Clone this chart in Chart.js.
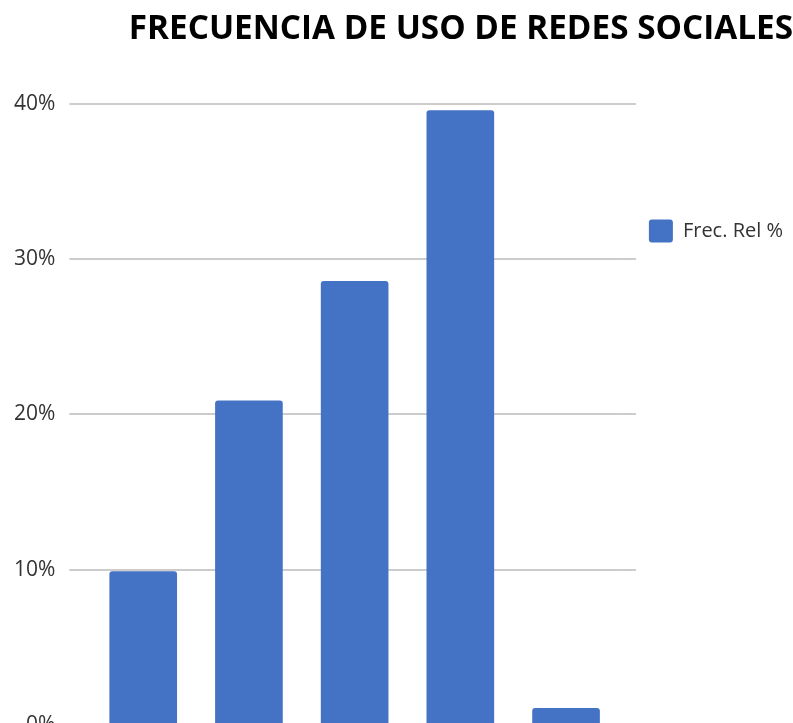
<!DOCTYPE html>
<html>
<head>
<meta charset="utf-8">
<script src="https://cdn.jsdelivr.net/npm/chart.js@4/dist/chart.umd.min.js"></script>
<style>
  html, body { margin: 0; padding: 0; background: #fff; overflow: hidden; }
  #wrap { width: 793px; height: 770px; }
</style>
</head>
<body>
<div id="wrap"><canvas id="bar-chart" width="793" height="770"></canvas></div>
<script>
var categorias = ['Nunca', 'Rara vez', 'A veces', 'Frecuentemente', 'No responde'];
var frecRel = [9.9, 20.9, 28.6, 39.6, 1.1];
var yTicks = [0, 10, 20, 30, 40];

var handleChart = function () {
    var ctx = document.getElementById('bar-chart').getContext('2d');
    window.myBar = new Chart(ctx, {
        type: 'bar',
        data: {
            labels: categorias,
            datasets: [{
                label: 'Frec. Rel %',
                data: frecRel,
                backgroundColor: '#4472C4',
                borderRadius: { topLeft: 3, topRight: 3 },
                borderSkipped: 'start',
                categoryPercentage: 0.8,
                barPercentage: 0.8
            }]
        },
        options: {
            responsive: false,
            animation: false,
            layout: { padding: { top: 0, right: 0, bottom: 7, left: 0 } },
            plugins: {
                title: {
                    display: true,
                    text: 'FRECUENCIA DE USO DE REDES SOCIALES',
                    align: 'end',
                    color: '#000',
                    font: { family: 'Open Sans', size: 33.3, weight: 'bold', lineHeight: 1.2 },
                    padding: { top: 10, bottom: 54 }
                },
                legend: {
                    position: 'right',
                    align: 'start',
                    maxWidth: 200,
                    title: { display: true, text: '', padding: { top: 192, bottom: 0 } },
                    labels: {
                        color: '#333',
                        font: { family: 'Open Sans', size: 20 },
                        boxWidth: 24,
                        boxHeight: 23,
                        padding: 13,
                        useBorderRadius: true,
                        borderRadius: 3
                    }
                },
                tooltip: { enabled: false }
            },
            scales: {
                x: {
                    grid: { display: false },
                    border: { display: false },
                    ticks: {
                        color: '#333',
                        maxRotation: 0,
                        minRotation: 0,
                        autoSkip: false,
                        font: { family: 'Open Sans', size: 20 }
                    }
                },
                y: {
                    min: 0,
                    max: 40,
                    afterBuildTicks: function (axis) {
                        axis.ticks = yTicks.map(function (v) { return { value: v }; });
                    },
                    grid: { color: '#cccccc', lineWidth: 2, tickLength: 21, tickColor: '#cccccc' },
                    border: { display: false },
                    ticks: {
                        color: '#333',
                        padding: 14,
                        font: { family: 'Open Sans', size: 21 },
                        callback: function (v) { return v + '%'; }
                    }
                },
                y2: {
                    position: 'right',
                    min: 0,
                    max: 40,
                    afterBuildTicks: function (axis) {
                        axis.ticks = yTicks.map(function (v) { return { value: v }; });
                    },
                    grid: { drawOnChartArea: false, color: '#cccccc', lineWidth: 2, tickLength: 17 },
                    border: { display: false },
                    ticks: { display: false }
                }
            }
        }
    });
};

handleChart();
</script>
</body>
</html>
